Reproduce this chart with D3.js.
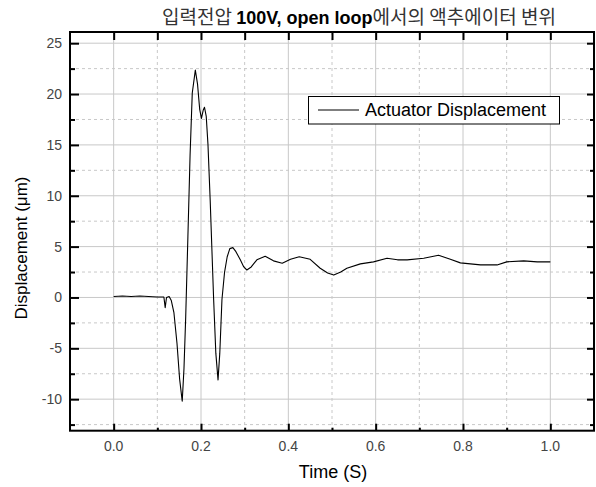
<!DOCTYPE html>
<html>
<head>
<meta charset="utf-8">
<script src="https://cdn.jsdelivr.net/npm/d3@7"></script>
<style>
    body { margin: 0; background: white; }
    svg { display: block; }
    .tickLabel { font-family: "Liberation Sans", Arial, sans-serif; font-size: 14px; fill: #444; }
</style>
</head>
<body>
<svg id="chart" width="596" height="487"></svg>
<script>
// data
const times = [0.0, 0.02, 0.04, 0.06, 0.08, 0.1, 0.115, 0.118, 0.121, 0.127, 0.132, 0.138, 0.145, 0.151,
    0.157, 0.161, 0.165, 0.17, 0.175, 0.18, 0.187, 0.192, 0.197, 0.201, 0.205, 0.208, 0.212, 0.216,
    0.221, 0.229, 0.234, 0.239, 0.243, 0.248, 0.254, 0.26, 0.266, 0.273, 0.28, 0.29, 0.298, 0.305,
    0.315, 0.328, 0.347, 0.366, 0.386, 0.405, 0.425, 0.45, 0.473, 0.49, 0.504, 0.52, 0.534, 0.565,
    0.595, 0.626, 0.65, 0.672, 0.71, 0.744, 0.771, 0.794, 0.84, 0.878, 0.9, 0.939, 0.97, 1.0];
const displacement = [0.1, 0.15, 0.1, 0.15, 0.1, 0.05, 0.05, -1.0, 0.0, 0.1, -0.3, -1.5, -4.5, -8,
    -10.2, -7, -1.9, 6, 14, 20.1, 22.35, 21, 18.5, 17.6, 18.4, 18.7, 17.8, 15,
    9.6, -0.25, -5.5, -8.1, -5.5, -0.2, 2.5, 4.0, 4.8, 4.9, 4.5, 3.7, 3.0, 2.7,
    3.0, 3.7, 4.05, 3.6, 3.36, 3.75, 4.0, 3.75, 2.87, 2.4, 2.2, 2.5, 2.87, 3.3,
    3.5, 3.85, 3.7, 3.7, 3.85, 4.15, 3.75, 3.4, 3.2, 3.2, 3.5, 3.6, 3.5, 3.5];

const xMajor = [0.0, 0.2, 0.4, 0.6, 0.8, 1.0];
const xMinor = [0.1, 0.3, 0.5, 0.7, 0.9];
const yMajor = [-10, -5, 0, 5, 10, 15, 20, 25];
const yMinor = [-12.5, -7.5, -2.5, 2.5, 7.5, 12.5, 17.5, 22.5];

const seriesName = "Actuator Displacement";

const plotLeft = 70, plotRight = 594, plotTop = 32, plotBottom = 430.7;

const svg = d3.select("#chart");

const x = d3.scaleLinear().domain([-0.1, 1.1]).range([plotLeft, plotRight]);
const y = d3.scaleLinear().domain([-13.1, 26.1]).range([plotBottom, plotTop]);

const gridColor = "#c8c8c8";

// grid lines, solid on major and dashed on minor
const grid = svg.append("g");
grid.selectAll(".vMajor").data(xMajor).enter().append("line")
    .attr("x1", d => x(d)).attr("x2", d => x(d))
    .attr("y1", plotTop).attr("y2", plotBottom)
    .attr("stroke", gridColor).attr("stroke-width", 1);
grid.selectAll(".vMinor").data(xMinor).enter().append("line")
    .attr("x1", d => x(d)).attr("x2", d => x(d))
    .attr("y1", plotTop).attr("y2", plotBottom)
    .attr("stroke", gridColor).attr("stroke-width", 1).attr("stroke-dasharray", "3,3");
grid.selectAll(".hMajor").data(yMajor).enter().append("line")
    .attr("x1", plotLeft).attr("x2", plotRight)
    .attr("y1", d => y(d)).attr("y2", d => y(d))
    .attr("stroke", gridColor).attr("stroke-width", 1);
grid.selectAll(".hMinor").data(yMinor).enter().append("line")
    .attr("x1", plotLeft).attr("x2", plotRight)
    .attr("y1", d => y(d)).attr("y2", d => y(d))
    .attr("stroke", gridColor).attr("stroke-width", 1).attr("stroke-dasharray", "3,3");

// the data line
const line = d3.line()
    .x((d, i) => x(times[i]))
    .y(d => y(d));

svg.append("path")
    .datum(displacement)
    .attr("fill", "none")
    .attr("stroke", "black")
    .attr("stroke-width", 1.1)
    .attr("stroke-linejoin", "round")
    .attr("d", line);

// axes, ticks pointing inward
svg.append("g")
    .attr("transform", `translate(0,${plotBottom})`)
    .call(d3.axisTop(x).tickValues(xMajor).tickSize(7).tickFormat(""))
    .call(g => g.select(".domain").remove());
svg.append("g")
    .attr("transform", `translate(0,${plotBottom})`)
    .call(d3.axisTop(x).tickValues(xMinor).tickSize(3).tickFormat(""))
    .call(g => g.select(".domain").remove());
svg.append("g")
    .attr("transform", `translate(0,${plotTop})`)
    .call(d3.axisBottom(x).tickValues(xMajor.concat(xMinor)).tickSize(8).tickFormat(""))
    .call(g => g.select(".domain").remove());
svg.append("g")
    .attr("transform", `translate(${plotLeft},0)`)
    .call(d3.axisRight(y).tickValues(yMajor).tickSize(9).tickFormat(""))
    .call(g => g.select(".domain").remove());
svg.append("g")
    .attr("transform", `translate(${plotLeft},0)`)
    .call(d3.axisRight(y).tickValues(yMinor).tickSize(5).tickFormat(""))
    .call(g => g.select(".domain").remove());
svg.append("g")
    .attr("transform", `translate(${plotRight},0)`)
    .call(d3.axisLeft(y).tickValues(yMajor).tickSize(7).tickFormat(""))
    .call(g => g.select(".domain").remove());
svg.append("g")
    .attr("transform", `translate(${plotRight},0)`)
    .call(d3.axisLeft(y).tickValues(yMinor).tickSize(4).tickFormat(""))
    .call(g => g.select(".domain").remove());
svg.selectAll(".tick line").attr("stroke", "black").attr("stroke-width", 2);

// frame
svg.append("rect")
    .attr("x", plotLeft).attr("y", plotTop)
    .attr("width", plotRight - plotLeft).attr("height", plotBottom - plotTop)
    .attr("fill", "none").attr("stroke", "black").attr("stroke-width", 2);

// tick labels
svg.selectAll(".xLabel").data(xMajor).enter().append("text")
    .attr("class", "tickLabel")
    .attr("x", d => x(d)).attr("y", 451)
    .attr("text-anchor", "middle")
    .text(d => d.toFixed(1));
svg.selectAll(".yLabel").data(yMajor).enter().append("text")
    .attr("class", "tickLabel")
    .attr("x", 62).attr("y", d => y(d) + 5)
    .attr("text-anchor", "end")
    .text(d => d);

// axis titles
svg.append("text")
    .attr("x", 333).attr("y", 478)
    .attr("text-anchor", "middle")
    .attr("font-family", "Liberation Sans, Arial, sans-serif")
    .attr("font-size", 18)
    .text("Time (S)");
svg.append("text")
    .attr("transform", "translate(27,248) rotate(-90)")
    .attr("text-anchor", "middle")
    .attr("font-family", "Liberation Sans, Arial, sans-serif")
    .attr("font-size", 17)
    .text("Displacement (\u03bcm)");

// title, korean parts thin and latin part bold
const title = svg.append("text")
    .attr("x", 359).attr("y", 24)
    .attr("text-anchor", "middle")
    .attr("font-size", 19);
title.append("tspan").attr("font-family", "Noto Sans CJK KR").attr("fill", "#333").text("입력전압 ");
title.append("tspan").attr("font-family", "Liberation Sans, Arial, sans-serif").attr("font-weight", "bold").attr("font-size", 18).text("100V, open loop");
title.append("tspan").attr("font-family", "Noto Sans CJK KR").attr("fill", "#333").text("에서의 액추에이터 변위");

// legend
const legend = svg.append("g");
legend.append("rect")
    .attr("x", 308.5).attr("y", 96.5)
    .attr("width", 251).attr("height", 27.5)
    .attr("fill", "white").attr("stroke", "black").attr("stroke-width", 1);
legend.append("line")
    .attr("x1", 318).attr("x2", 359)
    .attr("y1", 110).attr("y2", 110)
    .attr("stroke", "black").attr("stroke-width", 1.2);
legend.append("text")
    .attr("x", 365).attr("y", 116)
    .attr("font-family", "Liberation Sans, Arial, sans-serif")
    .attr("font-size", 18)
    .text(seriesName);
</script>
</body>
</html>
